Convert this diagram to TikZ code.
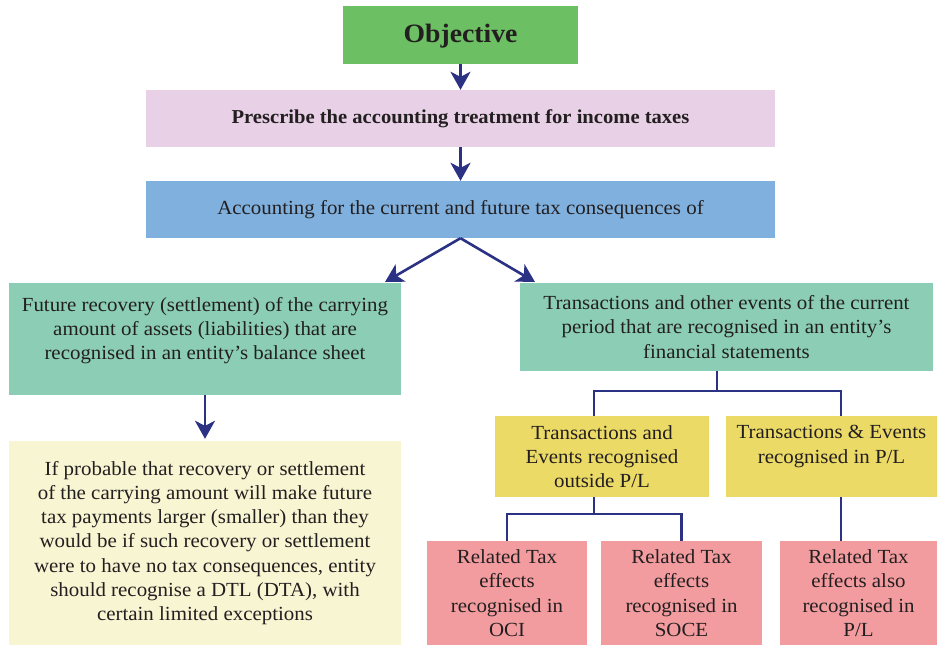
\documentclass[tikz,border=0pt]{standalone}
\usepackage{fontspec}
\setmainfont[FakeStretch=1.045]{Liberation Serif}
\usetikzlibrary{arrows.meta,calc}
\definecolor{cobj}{HTML}{6CBF62}
\definecolor{cpresc}{HTML}{E8D0E6}
\definecolor{cacct}{HTML}{7FB0DE}
\definecolor{cteal}{HTML}{8BCEB5}
\definecolor{cpale}{HTML}{F8F5D3}
\definecolor{cgold}{HTML}{ECDA66}
\definecolor{csalmon}{HTML}{F39C9F}
\definecolor{cnavy}{HTML}{2B3183}
\definecolor{ctxt}{HTML}{231F20}
\begin{document}
\begin{tikzpicture}[x=1pt,y=-1pt,
  box/.style={rectangle, inner sep=0pt, align=center, text=ctxt,
    font=\fontsize{20}{24.3}\selectfont},
  arr/.style={draw=cnavy, line width=2.6pt, -{Stealth[length=18pt,width=20pt,inset=5pt]}},
  ln/.style={draw=cnavy, line width=2.6pt}]
\path[use as bounding box] (0,0) rectangle (937,646);

\node[box, fill=cobj, minimum width=235pt, minimum height=58pt,
  font=\fontsize{26.5}{30}\selectfont\bfseries] (obj) at (460.5,35) {\raisebox{-1.5pt}[\height][\depth]{Objective}};
\node[box, fill=cpresc, minimum width=629pt, minimum height=57pt,
  font=\fontsize{19.7}{22}\selectfont\bfseries] (presc) at (460.5,118.5)
  {Prescribe the accounting treatment for income taxes};
\node[box, fill=cacct, minimum width=629pt, minimum height=57pt] (acct) at (460.5,209.5)
  {Accounting for the current and future tax consequences of};
\node[box, fill=cteal, minimum width=392pt, minimum height=112pt] (fut) at (205,339)
  {Future recovery (settlement) of the carrying\\amount of assets (liabilities) that are\\recognised in an entity’s balance sheet\\[-3pt]\mbox{}};
\node[box, fill=cteal, minimum width=413pt, minimum height=88pt] (trans) at (726.5,327)
  {Transactions and other events of the current\\period that are recognised in an entity’s\\financial statements};
\node[box, fill=cpale, minimum width=392pt, minimum height=204pt] (ifprob) at (205,543)
  {If probable that recovery or settlement\\of the carrying amount will make future\\tax payments larger (smaller) than they\\would be if such recovery or settlement\\were to have no tax consequences, entity\\should recognise a DTL (DTA), with\\certain limited exceptions};
\node[box, fill=cgold, minimum width=214pt, minimum height=81pt] (tout) at (602,456.5)
  {Transactions and\\Events recognised\\outside P/L};
\node[box, fill=cgold, minimum width=211pt, minimum height=81pt] (tpl) at (831.5,456.5)
  {Transactions \& Events\\recognised in P/L\\\mbox{}};
\node[box, fill=csalmon, minimum width=160pt, minimum height=104pt] (oci) at (507,593)
  {Related Tax\\effects\\recognised in\\OCI};
\node[box, fill=csalmon, minimum width=161pt, minimum height=104pt] (soce) at (681.5,593)
  {Related Tax\\effects\\recognised in\\SOCE};
\node[box, fill=csalmon, minimum width=157pt, minimum height=104pt] (alsopl) at (858.5,593)
  {Related Tax\\effects also\\recognised in\\P/L};

% arrows
\draw[arr] (obj.south) -- (presc.north);
\draw[arr] (presc.south) -- (acct.north);
\coordinate (dl) at (385,282);
\coordinate (dr) at (535,282);
\draw[arr] (acct.south) -- (dl);
\draw[arr] (acct.south) -- (dr);
\draw[arr] (fut.south) -- ($(ifprob.north)+(0,-2)$);

% tree lines
\coordinate (j1) at (717,391);
\coordinate (l1) at (594,0);
\coordinate (r1) at (841,0);
\coordinate (j2) at (594,514);
\draw[ln] (trans.south -| j1) -- (j1);
\draw[ln] (tout.north -| l1) |- (j1) -| (tpl.north -| r1);
\draw[ln] (tout.south -| j2) -- (j2);
\draw[ln] (oci.north) |- (j2) -| (soce.north);
\draw[ln] (tpl.south -| r1) -- (alsopl.north -| r1);
\end{tikzpicture}
\end{document}
